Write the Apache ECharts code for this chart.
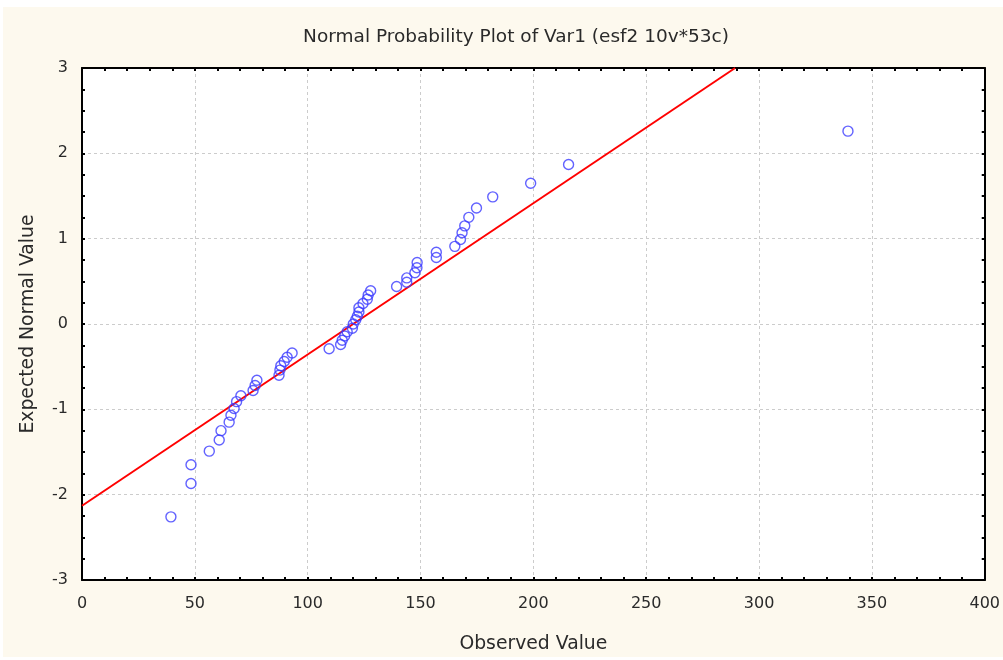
<!DOCTYPE html>
<html>
<head>
<meta charset="utf-8">
<script src="https://cdn.jsdelivr.net/npm/echarts@6/dist/echarts.min.js"></script>
<style>
html,body{margin:0;padding:0;background:#ffffff;}
#chart{width:1003px;height:660px;}
</style>
</head>
<body>
<div id="chart"></div>
<script>
var observed = [39.4, 48.3, 48.3, 56.4, 60.8, 61.6, 65.2, 66.0, 67.4, 68.5,
  70.4, 75.8, 76.7, 77.5, 87.3, 87.7, 88.1, 89.6, 90.9, 93.1,
  109.5, 114.6, 115.3, 116.4, 117.5, 119.8, 120.2, 121.3, 122.0, 122.7,
  122.7, 124.5, 126.4, 126.8, 127.9, 139.4, 143.9, 143.9, 147.5, 148.4,
  148.5, 157.0, 157.0, 165.2, 167.7, 168.4, 169.6, 171.4, 174.8, 182.0,
  198.8, 215.6, 339.4];
var expected = [-2.26, -1.87, -1.65, -1.49, -1.36, -1.25, -1.15, -1.07, -0.99, -0.91,
  -0.84, -0.78, -0.72, -0.66, -0.60, -0.54, -0.49, -0.44, -0.39, -0.34,
  -0.29, -0.24, -0.19, -0.14, -0.09, -0.05, 0.00, 0.05, 0.09, 0.14,
  0.19, 0.24, 0.29, 0.34, 0.39, 0.44, 0.49, 0.54, 0.60, 0.66,
  0.72, 0.78, 0.84, 0.91, 0.99, 1.07, 1.15, 1.25, 1.36, 1.49,
  1.65, 1.87, 2.26];
// Fitted reference line endpoints
var lineX = [0, 289.4];
var lineY = [-2.13, 3];
var xTicks = {min: 0, max: 400, interval: 50};
var yTicks = {min: -3, max: 3, interval: 1};
var titleText = 'Normal Probability Plot of Var1 (esf2 10v*53c)';
var xName = 'Observed Value';
var yName = 'Expected Normal Value';

var pts = observed.map(function (v, i) { return [v, expected[i]]; });
var linePts = lineX.map(function (v, i) { return [v, lineY[i]]; });

var FONT = 'DejaVu Sans';
var TXT = '#2a2a2a';
var chart = echarts.init(document.getElementById('chart'), null, {renderer: 'canvas'});

function frameAxis(extra, split) {
  var base = {
    axisLine: {show: true, onZero: false, lineStyle: {color: '#000', width: 2}},
    axisTick: {show: true, inside: true, length: 3, lineStyle: {color: '#000', width: 2}},
    minorTick: {show: true, splitNumber: split, length: 3, lineStyle: {color: '#000', width: 2}},
    axisLabel: {show: false},
    splitLine: {show: false},
    minorSplitLine: {show: false}
  };
  return Object.assign(base, extra);
}

chart.setOption({
  animation: false,
  backgroundColor: '#ffffff',
  graphic: [{
    type: 'rect', z: -10, silent: true,
    shape: {x: 3, y: 7, width: 1000, height: 650},
    style: {fill: '#fdf9ee'}
  }],
  title: {
    text: titleText,
    left: 511, top: 23, textAlign: 'center',
    textStyle: {fontFamily: FONT, fontSize: 18.5, fontWeight: 'normal', color: TXT}
  },
  grid: {
    left: 82, right: 15, top: 68, bottom: 80,
    show: true, backgroundColor: '#ffffff', borderColor: '#000', borderWidth: 0
  },
  xAxis: [
    frameAxis({
      type: 'value', position: 'bottom',
      min: xTicks.min, max: xTicks.max, interval: xTicks.interval,
      axisLabel: {show: true, margin: 16, fontFamily: FONT, fontSize: 16, color: TXT},
      splitLine: {show: true, lineStyle: {color: '#cccccc', type: [3, 3], width: 1}},
      name: xName, nameLocation: 'middle', nameGap: 55,
      nameTextStyle: {fontFamily: FONT, fontSize: 18.8, color: TXT}
    }, 5),
    frameAxis({
      type: 'value', position: 'top',
      min: xTicks.min, max: xTicks.max, interval: xTicks.interval
    }, 5)
  ],
  yAxis: [
    frameAxis({
      type: 'value', position: 'left',
      min: yTicks.min, max: yTicks.max, interval: yTicks.interval,
      axisLabel: {show: true, margin: 14, fontFamily: FONT, fontSize: 16, color: TXT},
      splitLine: {show: true, lineStyle: {color: '#cccccc', type: [3, 3], width: 1}},
      name: yName, nameLocation: 'middle', nameGap: 44, nameRotate: 90,
      nameTextStyle: {fontFamily: FONT, fontSize: 18.8, color: TXT}
    }, 4),
    frameAxis({
      type: 'value', position: 'right',
      min: yTicks.min, max: yTicks.max, interval: yTicks.interval
    }, 4)
  ],
  series: [
    {
      type: 'line', data: linePts, xAxisIndex: 0, yAxisIndex: 0,
      showSymbol: false, symbol: 'none', clip: true,
      lineStyle: {color: '#ff0000', width: 2}, z: 3
    },
    {
      type: 'scatter', data: pts, xAxisIndex: 0, yAxisIndex: 0,
      symbol: 'circle', symbolSize: 10,
      itemStyle: {color: 'rgba(0,0,0,0)', borderColor: '#3b3bff', borderWidth: 1.4},
      z: 4
    }
  ]
});
</script>
</body>
</html>
